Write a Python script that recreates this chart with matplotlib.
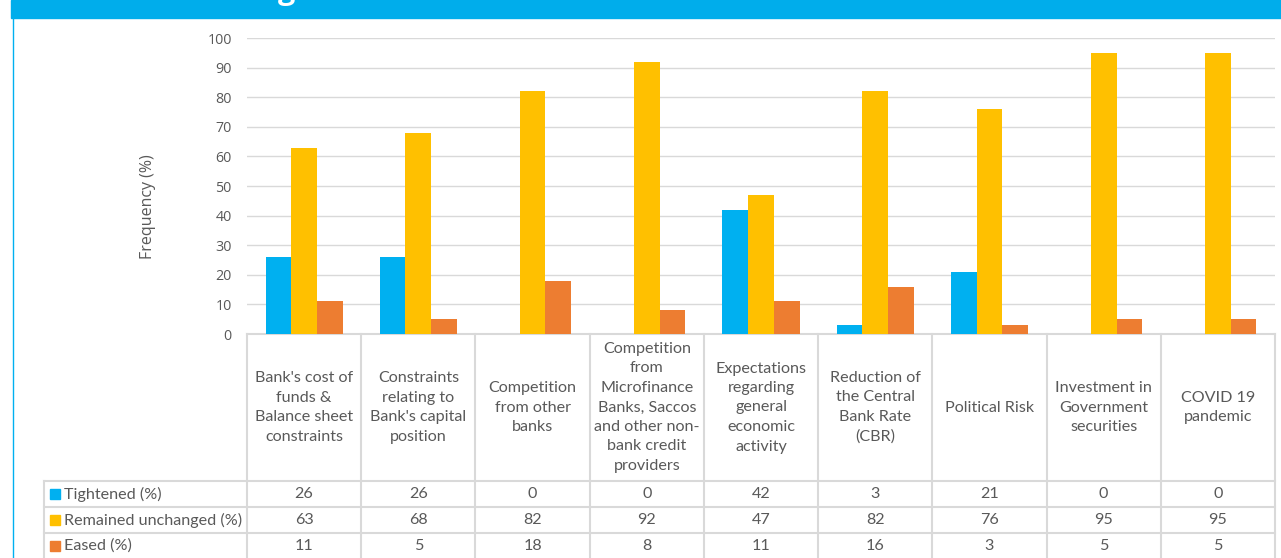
import matplotlib
matplotlib.use("Agg")
import matplotlib.pyplot as plt
from matplotlib import transforms
from matplotlib.patches import Rectangle
from matplotlib.lines import Line2D
import numpy as np

categories = [
    "Bank's cost of\nfunds &\nBalance sheet\nconstraints",
    "Constraints\nrelating to\nBank's capital\nposition",
    "Competition\nfrom other\nbanks",
    "Competition\nfrom\nMicrofinance\nBanks, Saccos\nand other non-\nbank credit\nproviders",
    "Expectations\nregarding\ngeneral\neconomic\nactivity",
    "Reduction of\nthe Central\nBank Rate\n(CBR)",
    "Political Risk",
    "Investment in\nGovernment\nsecurities",
    "COVID 19\npandemic",
]
series_names = ["Tightened (%)", "Remained unchanged (%)", "Eased (%)"]
tightened = [26, 26, 0, 0, 42, 3, 21, 0, 0]
unchanged = [63, 68, 82, 92, 47, 82, 76, 95, 95]
eased = [11, 5, 18, 8, 11, 16, 3, 5, 5]
yticks = [0, 10, 20, 30, 40, 50, 60, 70, 80, 90, 100]
title = "Factors affecting credit standards"

colors = ["#00B0F0", "#FFC000", "#ED7D31"]
grid_c = "#D9D9D9"
text_c = "#595959"
banner_c = "#00ADEB"

W, H = 1281, 558
fig = plt.figure(figsize=(W / 100, H / 100), dpi=100)
fig.patch.set_facecolor("white")

def fx(px):
    return px / W

def fy(py):
    return 1 - py / H

# plot area
x0, x1, ytop, ybot = 247, 1275, 38, 334
ax = fig.add_axes([fx(x0), fy(ybot), fx(x1) - fx(x0), fy(ytop) - fy(ybot)])
n = len(categories)
x = np.arange(n)
bw = 0.225
for k, vals in enumerate([tightened, unchanged, eased]):
    ax.bar(x + (k - 1) * bw, vals, width=bw, color=colors[k], zorder=3)

ax.set_xlim(-0.5, n - 0.5)
ax.set_ylim(0, 100)
ax.set_yticks(yticks)
ax.set_xticks([])
ax.yaxis.grid(True, color=grid_c, linewidth=1.0, zorder=0)
for s in ["top", "right", "left"]:
    ax.spines[s].set_visible(False)
ax.spines["bottom"].set_color(grid_c)
ax.spines["bottom"].set_linewidth(1.5)
ax.tick_params(axis="y", length=0, pad=11, labelsize=10.3, labelcolor=text_c)
for lab in ax.get_yticklabels():
    lab.set_fontfamily("Open Sans")
fig.text(fx(148), fy(207), "Frequency (%)", rotation=90, ha="center", va="center",
         fontsize=11.5, color=text_c, family="Open Sans")

# data table under the plot
tr = transforms.blended_transform_factory(ax.transData, fig.transFigure)
ftr = fig.transFigure
head_bot, rows = 481, [481, 507, 533, 558]
lab_left = 44
lw = 1.5

def hline(py, xa, xb):
    fig.add_artist(Line2D([fx(xa), fx(xb)], [fy(py), fy(py)], color=grid_c, lw=lw, transform=ftr))

def vline(px, ya, yb):
    fig.add_artist(Line2D([fx(px), fx(px)], [fy(ya), fy(yb)], color=grid_c, lw=lw, transform=ftr))

for i in range(n + 1):
    px = x0 + (x1 - x0) * i / n
    vline(px, ybot, H)
vline(lab_left, head_bot, H)
for py in rows[:-1]:
    hline(py, lab_left, x1)

tfont = dict(family="Lato", fontsize=11.6, color=text_c)
for i, cat in enumerate(categories):
    ax.text(i, fy((ybot + head_bot) / 2), cat, transform=tr, ha="center", va="center",
            linespacing=1.5, clip_on=False, **tfont)

for r, (name, vals) in enumerate(zip(series_names, [tightened, unchanged, eased])):
    yc = (rows[r] + rows[r + 1]) / 2
    fig.add_artist(Rectangle((fx(50), fy(yc + 5)), fx(10), fy(yc - 5) - fy(yc + 5),
                             color=colors[r], transform=ftr))
    fig.text(fx(64), fy(yc), name, ha="left", va="center", **tfont)
    for i, v in enumerate(vals):
        ax.text(i, fy(yc), f"{v}", transform=tr, ha="center", va="center", clip_on=False, **tfont)

# header banner and left border
fig.add_artist(Rectangle((fx(11), fy(18)), 1 - fx(11), fy(0) - fy(18), color=banner_c, transform=ftr))
fig.add_artist(Line2D([fx(12.5), fx(12.5)], [fy(18), 0], color="#00B0F0", lw=1.0, transform=ftr))
fig.text(fx(40), fy(-1.5), title, ha="left", va="baseline", color="white",
         family="Open Sans", fontweight="bold", fontsize=22)

fig.savefig("out.png", dpi=100, facecolor="white")
